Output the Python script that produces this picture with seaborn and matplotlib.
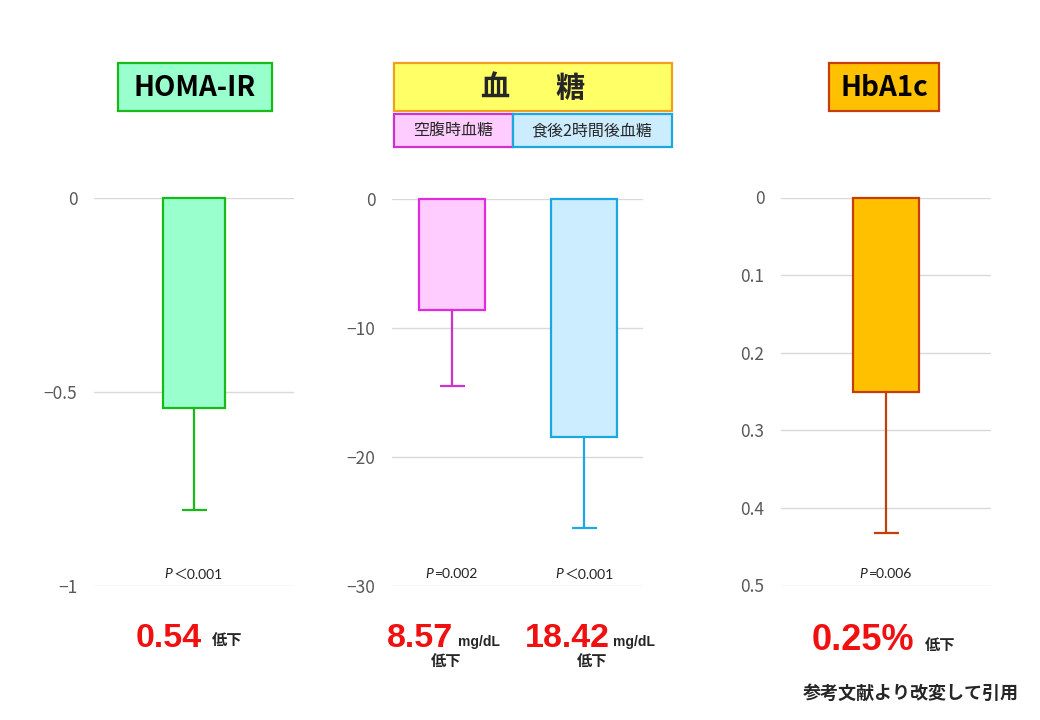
import matplotlib
matplotlib.use("Agg")
import matplotlib.pyplot as plt
from matplotlib.patches import Rectangle
from matplotlib.offsetbox import TextArea, HPacker, AnnotationBbox
from matplotlib import font_manager as fm
import seaborn as sns

# ---------------- data ----------------
homa_labels = ["HOMA-IR"]
homa_values = [-0.54]
homa_sd = [0.265]
homa_p = ["＜0.001"]
homa_ticks = [0, -0.5, -1]
homa_ticklabels = ["0", "−0.5", "−1"]

glucose_labels = ["空腹時血糖", "食後2時間後血糖"]
glucose_values = [-8.57, -18.42]
glucose_sd = [5.9, 7.1]
glucose_p = ["=0.002", "＜0.001"]
glucose_ticks = [0, -10, -20, -30]
glucose_ticklabels = ["0", "−10", "−20", "−30"]

hba1c_labels = ["HbA1c"]
hba1c_values = [0.25]
hba1c_sd = [0.182]
hba1c_p = ["=0.006"]
hba1c_ticks = [0, 0.1, 0.2, 0.3, 0.4, 0.5]
hba1c_ticklabels = ["0", "0.1", "0.2", "0.3", "0.4", "0.5"]

# ---------------- style ----------------
sns.set_style("white")
plt.rcParams['font.family'] = ['Noto Sans CJK JP', 'DejaVu Sans']

names = {f.name for f in fm.fontManager.ttflist}
narrow = 'Liberation Sans Narrow' in names
num_family = 'Liberation Sans Narrow' if narrow else 'Liberation Sans'
num_size = 27 if narrow else 24.5
pct_size = 29 if narrow else 26

W, H = 1040, 720
fig = plt.figure(figsize=(10.4, 7.2), dpi=100)
fig.patch.set_facecolor("white")


def px_axes(l, t, r, b):
    return fig.add_axes([l / W, 1 - b / H, (r - l) / W, (b - t) / H])


def fx(x):
    return x / W


def fy(y):
    return 1 - y / H


def style_axes(ax, ticks, ticklabels, ylim):
    ax.set_ylim(*ylim)
    ax.set_yticks(ticks)
    ax.set_yticklabels(ticklabels)
    ax.set_xticks([])
    ax.set_xlabel("")
    ax.set_ylabel("")
    for s in ax.spines.values():
        s.set_visible(False)
    ax.yaxis.grid(True, color="#D9D9D9", linewidth=1.0)
    ax.set_axisbelow(True)
    ax.tick_params(axis="y", length=0, pad=12, labelsize=12.5, labelcolor="#595959")
    ax.set_facecolor("none")


def add_err(ax, xs, vals, sds, colors, down_negative=True):
    for x, v, s, c in zip(xs, vals, sds, colors):
        if down_negative:
            yerr = [[s], [0]]
        else:
            yerr = [[0], [s]]
        _, caps, _ = ax.errorbar([x], [v], yerr=yerr, fmt="none", ecolor=c,
                                 elinewidth=1.6, capsize=9, capthick=1.6, zorder=1)
        for cl in caps:
            yd = list(cl.get_ydata())
            if all(abs(y - v) < 1e-9 for y in yd):
                cl.set_visible(False)


def p_label(ax, x, ptxt):
    ta1 = TextArea("P", textprops=dict(fontsize=10, fontstyle="italic",
                                       family=["Lato", "DejaVu Sans"], color="#222222"))
    ta2 = TextArea(ptxt, textprops=dict(fontsize=10, family=["Lato", "Noto Sans CJK JP"],
                                        color="#222222"))
    pack = HPacker(children=[ta1, ta2], align="baseline", pad=0, sep=1)
    ab = AnnotationBbox(pack, (x, 0.03), xycoords=ax.get_xaxis_transform(),
                        frameon=False, box_alignment=(0.5, 0.5), annotation_clip=False)
    ax.add_artist(ab)


# ---------------- panel 1: HOMA-IR ----------------
ax1 = px_axes(94, 198, 294, 586)
sns.barplot(x=homa_labels, y=homa_values, ax=ax1, color="#99FFCC",
            edgecolor="#19B919", linewidth=1.6, width=0.31, errorbar=None, saturation=1)
ax1.set_xlim(-0.5, 0.5)
style_axes(ax1, homa_ticks, homa_ticklabels, (-1, 0))
add_err(ax1, [0], homa_values, homa_sd, ["#19B919"], True)
for i, p in enumerate(homa_p):
    p_label(ax1, i, p)

# ---------------- panel 2: glucose ----------------
ax2 = px_axes(392, 199, 643, 586)
g_fill = ["#FFCCFF", "#CCECFF"]
g_edge = ["#E02BE0", "#1BA8E0"]
sns.barplot(x=glucose_labels, y=glucose_values, hue=glucose_labels, palette=g_fill,
            legend=False, ax=ax2, linewidth=1.6, width=0.50, errorbar=None, saturation=1)
for patch, ec in zip(ax2.patches, g_edge):
    patch.set_edgecolor(ec)
ax2.set_xlim(-0.45, 1.444)
style_axes(ax2, glucose_ticks, glucose_ticklabels, (-30, 0))
add_err(ax2, [0, 1], glucose_values, glucose_sd, ["#CC33CC", "#1BA8E0"], True)
for i, p in enumerate(glucose_p):
    p_label(ax2, i, p)

# ---------------- panel 3: HbA1c ----------------
ax3 = px_axes(781, 197.5, 991, 585.5)
sns.barplot(x=hba1c_labels, y=hba1c_values, ax=ax3, color="#FFC000",
            edgecolor="#C43E0A", linewidth=1.6, width=0.316, errorbar=None, saturation=1)
ax3.set_xlim(-0.5, 0.5)
style_axes(ax3, hba1c_ticks, hba1c_ticklabels, (0.5, 0))
add_err(ax3, [0], hba1c_values, hba1c_sd, ["#C43E0A"], False)
for i, p in enumerate(hba1c_p):
    p_label(ax3, i, p)

for ax in (ax1, ax2, ax3):
    for patch in ax.patches:
        patch.set_clip_on(False)
        patch.set_zorder(2)


# ---------------- title boxes ----------------
def box(l, t, r, b, fc, ec):
    fig.add_artist(Rectangle((fx(l), fy(b)), (r - l) / W, (b - t) / H,
                             transform=fig.transFigure, facecolor=fc, edgecolor=ec,
                             linewidth=1.6))


box(117.5, 63, 271.5, 111, "#99FFCC", "#19B919")
fig.text(fx(194.5), fy(88), "HOMA-IR", ha="center", va="center", fontsize=20,
         fontweight="bold", color="black")

box(393.5, 63, 672, 111, "#FFFF66", "#F0A020")
fig.text(fx(495), fy(88), "血", ha="center", va="center", fontsize=21, fontweight="bold")
fig.text(fx(570), fy(88), "糖", ha="center", va="center", fontsize=21, fontweight="bold")

box(393.5, 113.5, 512.5, 146.5, "#FFCCFF", "#CC33CC")
box(512.5, 113.5, 672, 146.5, "#CCECFF", "#1BA8E0")
fig.text(fx(453), fy(130.5), glucose_labels[0], ha="center", va="center", fontsize=11.5)
fig.text(fx(592), fy(130.5), glucose_labels[1], ha="center", va="center", fontsize=11.5)

box(829, 63, 939, 111, "#FFC000", "#C43E0A")
fig.text(fx(884), fy(88), "HbA1c", ha="center", va="center", fontsize=20,
         fontweight="bold", color="black")

# ---------------- result annotations ----------------
red = "#F01010"
fig.text(fx(168.5), fy(647), "0.54", ha="center", va="baseline", fontsize=num_size,
         fontweight="bold", color=red, family=num_family)
fig.text(fx(212), fy(645), "低下", ha="left", va="baseline", fontsize=11, fontweight="bold")

fig.text(fx(420), fy(647), "8.57", ha="center", va="baseline", fontsize=num_size,
         fontweight="bold", color=red, family=num_family)
fig.text(fx(458), fy(646), "mg/dL", ha="left", va="baseline", fontsize=10,
         fontweight="bold", family=["Liberation Sans", "DejaVu Sans"])
fig.text(fx(446), fy(666), "低下", ha="center", va="baseline", fontsize=11, fontweight="bold")

fig.text(fx(567), fy(647), "18.42", ha="center", va="baseline", fontsize=num_size,
         fontweight="bold", color=red, family=num_family)
fig.text(fx(613), fy(646), "mg/dL", ha="left", va="baseline", fontsize=10,
         fontweight="bold", family=["Liberation Sans", "DejaVu Sans"])
fig.text(fx(592), fy(666), "低下", ha="center", va="baseline", fontsize=11, fontweight="bold")

fig.text(fx(863), fy(650), "0.25%", ha="center", va="baseline", fontsize=pct_size,
         fontweight="bold", color=red, family=num_family)
fig.text(fx(925), fy(650), "低下", ha="left", va="baseline", fontsize=11, fontweight="bold")

fig.text(fx(911), fy(693), "参考文献より改変して引用", ha="center", va="center",
         fontsize=13, fontweight="bold")

fig.savefig("out.png", dpi=100, facecolor="white")
